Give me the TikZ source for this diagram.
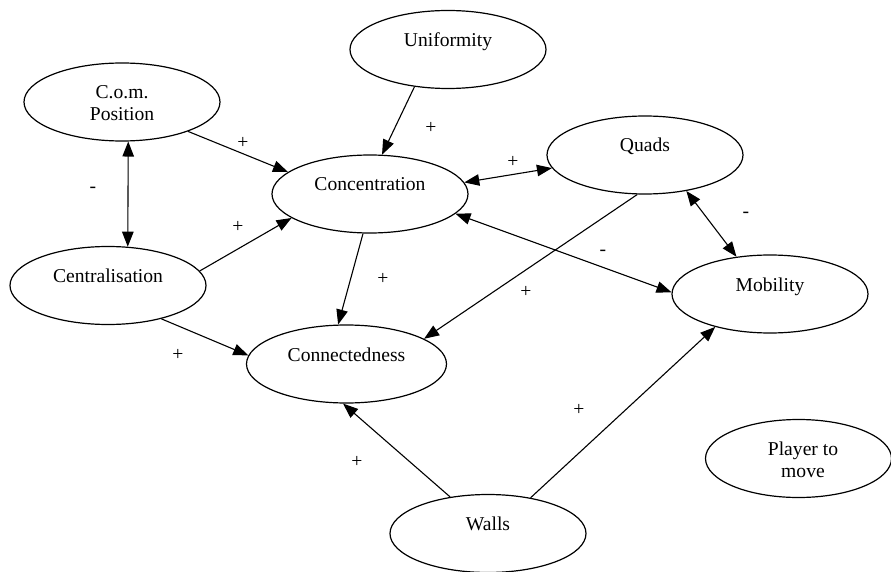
\documentclass[tikz,border=0pt]{standalone}
\usepackage{fontspec}
\setmainfont{Liberation Serif}
\usetikzlibrary{shapes.geometric,arrows.meta}
\newcommand\twoline[2]{\vtop{\baselineskip=22pt\lineskiplimit=-100pt\lineskip=0pt\halign{\hfil##\hfil\cr#1\cr#2\cr}}}
\begin{document}
\begin{tikzpicture}[x=1pt,y=-1pt,
  ell/.style={ellipse,draw,line width=1.2pt,minimum width=196pt,minimum height=78pt,inner sep=0pt,text height=0pt,text depth=6pt,font=\fontsize{19.6}{22}\selectfont},
  arr/.style={line width=1.1pt,-{Triangle[length=15pt,width=11.5pt]}},
  bi/.style={line width=1.1pt,{Triangle[length=15pt,width=11.5pt]}-{Triangle[length=15pt,width=11.5pt]}},
  sign/.style={font=\fontsize{19.6}{22}\selectfont,inner sep=0pt}]
\useasboundingbox (0,0) rectangle (891,572);
\clip (0,0) rectangle (891,572);
\node[ell] (unif) at (448,49.5) {Uniformity};
\node[ell] (com) at (122,102) {\twoline{C.o.m.}{Position}};
\node[ell] (conc) at (370,194) {Concentration};
\node[ell] (quads) at (645,155) {Quads};
\node[ell] (cent) at (108,285.5) {Centralisation};
\node[ell] (mob) at (770,294) {Mobility};
\node[ell,minimum width=200pt] (conn) at (346.5,364) {Connectedness};
\node[ell] (walls) at (488,533.5) {Walls};
\node[ell,minimum width=186pt] (player) at (798.5,458.5) {\kern9pt\twoline{Player to}{move}};

\draw[arr] (com.-24) -- (conc.165);
\draw[arr] (unif.-132) -- (conc.73);
\draw[bi] (com.-81) -- (cent.63);
\draw[bi] (conc.7) -- (quads.188);
\draw[bi] (quads.-41) -- (mob.132);
\draw[arr] (cent.9) -- (conc.197);
\draw[arr] (conc.-100) -- (conn.102);
\draw[bi] (conc.-13) -- (mob.179);
\draw[arr] (quads.-101) -- (conn.18);
\draw[arr] (cent.-32) -- (conn.175);
\draw[arr] (walls.136) -- (conn.-95);
\draw[arr] (walls.40) -- (mob.-149);

\node[sign] (s1) at (243,143) {+};
\node[sign] (s2) at (431,128) {+};
\node[sign] (s3) at (93,190) {-};
\node[sign] (s4) at (513,162) {+};
\node[sign] (s5) at (746,215) {-};
\node[sign] (s6) at (238,227) {+};
\node[sign] (s7) at (383,279) {+};
\node[sign] (s8) at (603,253) {-};
\node[sign] (s9) at (526,292) {+};
\node[sign] (s10) at (178,355) {+};
\node[sign] (s11) at (579,410) {+};
\node[sign] (s12) at (357,462) {+};
\end{tikzpicture}
\end{document}
